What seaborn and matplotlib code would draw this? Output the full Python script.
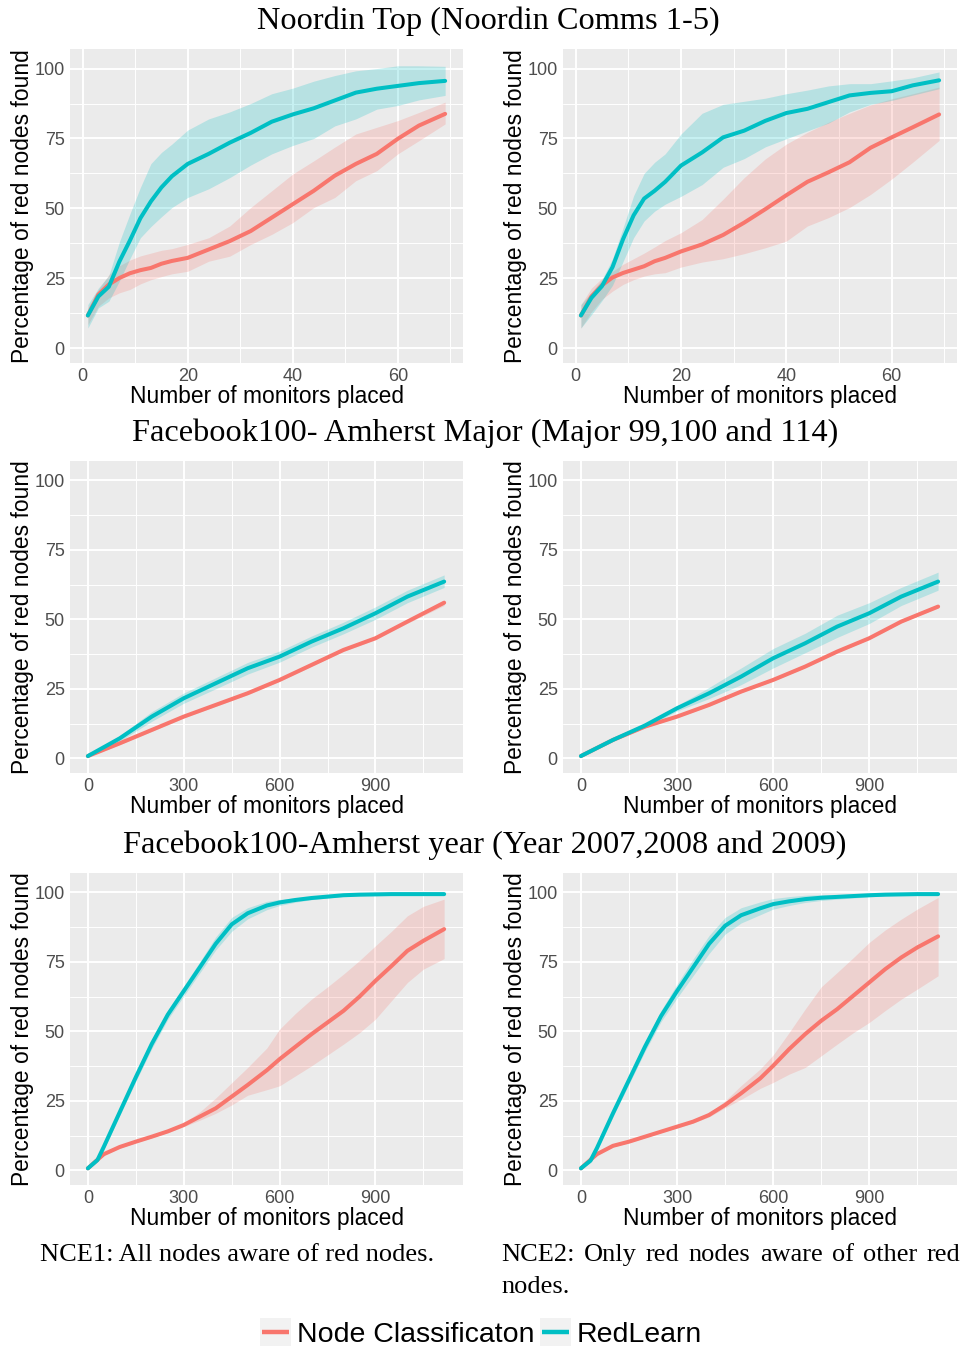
import numpy as np
import pandas as pd
import matplotlib
matplotlib.use("Agg")
import matplotlib.pyplot as plt
import seaborn as sns
from matplotlib.lines import Line2D
from matplotlib.patches import Rectangle
from matplotlib.legend_handler import HandlerBase

# ---- data -------------------------------------------------------------------
noordin_x = [1, 3, 5, 7, 9, 11, 13, 15, 17, 20, 24, 28, 32, 36, 40, 44, 48, 52, 56, 60, 64, 69]

nt1_nc = [11.7, 19.2, 22.8, 25.1, 26.8, 27.9, 28.7, 30.2, 31.2, 32.3, 35.3, 38.3, 41.9, 46.7, 51.5, 56.3, 61.7, 65.9, 69.5, 74.9, 79.6, 83.8]
nt1_nc_hi = [14.4, 21, 26.3, 29.5, 31.5, 33, 34, 35, 35.6, 37.1, 39.5, 43.7, 50.3, 56.3, 62.3, 67, 71.9, 76.6, 79, 81.4, 84.3, 88]
nt1_nc_lo = [8.4, 15, 18, 19.8, 21, 23, 24.5, 25.6, 26.6, 27.5, 31.1, 32.9, 37.1, 40.7, 44.9, 50.3, 53.9, 59.9, 63.5, 69.5, 74.2, 80.2]
nt1_rl = [11.7, 18.5, 22, 31, 38.5, 46.5, 52.5, 57.5, 61.5, 65.9, 69.5, 73.5, 77, 81, 83.6, 85.8, 88.6, 91.4, 92.8, 93.8, 94.8, 95.6]
nt1_rl_hi = [15.6, 21.5, 26, 38, 48, 57.5, 66, 70, 73, 78, 82, 84.5, 87.5, 91, 93, 95.5, 97.5, 99.2, 100, 101, 101, 100.8]
nt1_rl_lo = [7.2, 14.4, 16.8, 24, 32, 39.5, 43.5, 47, 50.3, 53.9, 57, 61, 65.5, 69.5, 72.5, 75, 79.5, 82, 85.5, 86.8, 88.8, 90.4]

nt2_nc = [11.7, 18.5, 22.5, 25.3, 26.9, 28.1, 29.3, 31.1, 32.3, 34.6, 37.1, 40.5, 44.9, 49.7, 54.7, 59.5, 62.9, 66.5, 71.7, 75.4, 79, 83.6]
nt2_nc_hi = [15.6, 21.5, 25, 27.5, 30, 32, 34, 36.2, 38.5, 41.3, 46, 53.3, 61, 67.7, 73, 77.2, 80.8, 84, 87, 89.2, 91, 93.4]
nt2_nc_lo = [7.2, 13, 17.5, 20.4, 22.8, 24.5, 25.8, 26.6, 27, 29, 30.8, 32, 33.8, 35.9, 38.3, 43.7, 46.7, 50.3, 55, 60.5, 66.5, 74.3]
nt2_rl = [11.7, 18, 22.2, 29, 39, 47.5, 53.5, 56.3, 59.5, 65.3, 70, 75.4, 77.8, 81.3, 84.1, 85.6, 88, 90.4, 91.3, 91.9, 94, 95.8]
nt2_rl_hi = [15.6, 20, 24.5, 32, 43, 54.5, 62.5, 66.5, 69.5, 76.6, 84, 87.2, 88.3, 89.4, 91, 92.3, 93.8, 94.6, 94.6, 95.6, 96.7, 98.8]
nt2_rl_lo = [7.2, 12, 17, 22.5, 31, 39.5, 45.5, 49, 51.5, 54.3, 58.5, 64.7, 67.8, 72, 74.9, 77.7, 80.5, 84.5, 87.2, 88.6, 90.5, 92.8]

major_x = [0, 100, 200, 300, 400, 500, 600, 700, 800, 900, 1000, 1115]

mj1_nc = [0.8, 5.4, 10.2, 15, 19.2, 23.4, 28.2, 33.6, 39, 43.2, 49.2, 56]
mj1_nc_hi = [1.1, 5.9, 10.7, 15.5, 19.7, 23.9, 28.7, 34.1, 39.5, 43.7, 49.8, 57]
mj1_nc_lo = [0.5, 4.9, 9.7, 14.5, 18.7, 22.9, 27.7, 33.1, 38.5, 42.7, 48.6, 55]
mj1_rl = [0.8, 7.2, 15, 21.6, 27, 32.4, 36.6, 42, 46.8, 52.2, 58.2, 63.6]
mj1_rl_hi = [1, 8.2, 16.8, 23.5, 29, 34.5, 38.6, 44, 49, 54.5, 60.5, 66]
mj1_rl_lo = [0.5, 6.2, 13.3, 19.8, 25, 30.3, 34.6, 40, 44.8, 50, 56, 61.5]

mj2_nc = [0.8, 6.6, 11.4, 15, 19.2, 24, 28.2, 33, 38.4, 43.2, 49.2, 54.6]
mj2_nc_hi = [1.1, 7, 11.8, 15.4, 19.6, 24.4, 28.6, 33.4, 38.8, 43.6, 49.6, 55.1]
mj2_nc_lo = [0.5, 6.2, 11, 14.6, 18.8, 23.6, 27.8, 32.6, 38, 42.8, 48.8, 54.1]
mj2_rl = [0.8, 6.6, 11.8, 18, 23.4, 29.4, 36, 41.4, 47.4, 52.2, 58.2, 63.6]
mj2_rl_hi = [1, 7, 12.5, 19, 25.5, 32.5, 39.5, 45, 51.5, 56, 61.5, 67]
mj2_rl_lo = [0.6, 6.2, 11, 17, 21.5, 26.5, 32.5, 38, 43.5, 48.5, 55, 60.5]

year_x = [0, 30, 50, 100, 150, 200, 250, 300, 350, 400, 450, 500, 560, 600, 650, 700, 750, 800, 850, 900, 950, 1000, 1050, 1115]

yr1_nc = [0.7, 3.8, 5.8, 8.4, 10.3, 12.1, 14, 16.3, 19.3, 22.3, 26.5, 30.7, 36, 40, 44.5, 49, 53.2, 57.4, 62.5, 68.2, 73.5, 79, 82.6, 86.8]
yr1_nc_hi = [1, 4.2, 6.2, 8.8, 10.7, 12.5, 14.5, 17, 21, 26, 31.5, 37, 44, 50.8, 56.5, 61.6, 66, 70.6, 75.5, 80.8, 86, 91.6, 95, 97.6]
yr1_nc_lo = [0.4, 3.4, 5.4, 8, 9.9, 11.7, 13.5, 15.7, 18, 20.5, 23.5, 27, 29, 30.4, 34, 37.6, 41.5, 45.4, 49.5, 54.4, 61, 67.6, 72.4, 76.2]
yr1_rl = [0.7, 3.7, 8.5, 21, 33.5, 45.5, 56, 64.5, 73, 81.5, 88.5, 92.5, 95.3, 96.4, 97.3, 98, 98.5, 99, 99.2, 99.3, 99.4, 99.4, 99.4, 99.4]
yr1_rl_hi = [1.1, 4.4, 9.5, 22.2, 35, 47.2, 57.7, 66.3, 75, 84, 91, 94.5, 96.8, 97.5, 98.1, 98.6, 98.9, 99.3, 99.5, 99.6, 99.7, 99.7, 99.7, 99.7]
yr1_rl_lo = [0.3, 3, 7.5, 19.8, 32, 43.8, 54.3, 62.7, 71, 79.3, 86, 90.5, 93.8, 95.3, 96.5, 97.4, 98, 98.6, 98.9, 99, 99.1, 99.1, 99.1, 99.1]

yr2_nc = [0.7, 3.8, 5.8, 8.8, 10.3, 12.1, 13.9, 15.7, 17.5, 19.9, 23.5, 27.7, 33.1, 37.6, 43.6, 49, 53.8, 58, 62.8, 67.6, 72.4, 76.6, 80.2, 84.2]
yr2_nc_hi = [1, 4.2, 6.2, 9.2, 10.7, 12.5, 14.3, 16.2, 18, 20.6, 25, 30.5, 36.5, 41.5, 49.6, 58, 66, 71.2, 76.5, 82, 86.5, 90.4, 94, 98.2]
yr2_nc_lo = [0.4, 3.4, 5.4, 8.4, 9.9, 11.7, 13.5, 15.2, 17, 19.2, 22.5, 25.5, 29.5, 31.6, 34.6, 37, 41.2, 45.4, 49.5, 53.2, 57.5, 61.6, 65.2, 70]
yr2_rl = [0.7, 3.5, 8, 20.5, 32.5, 44.5, 55.5, 64.5, 73, 81.5, 88, 91.8, 94.3, 95.8, 96.8, 97.6, 98.1, 98.4, 98.7, 99, 99.2, 99.3, 99.4, 99.4]
yr2_rl_hi = [1.1, 4.2, 9, 21.7, 34, 46.2, 57.5, 67, 76, 84.5, 91, 94.5, 96.6, 97.8, 98.5, 99, 99.2, 99.3, 99.4, 99.5, 99.6, 99.6, 99.7, 99.7]
yr2_rl_lo = [0.3, 2.8, 7, 19.3, 31, 42.8, 53.5, 62, 70, 78, 85, 89, 92, 94, 95.3, 96.4, 97.1, 97.6, 98, 98.4, 98.8, 99, 99.1, 99.1]

methods = ["Node Classificaton", "RedLearn"]
colors = {"Node Classificaton": "#F8766D", "RedLearn": "#00BFC4"}

section_titles = ["Noordin Top (Noordin Comms 1-5)",
                  "Facebook100- Amherst Major (Major 99,100 and 114)",
                  "Facebook100-Amherst year (Year 2007,2008 and 2009)"]
caption1 = "NCE1: All nodes aware of red nodes."
caption2_line1 = "NCE2:  Only red nodes aware of other red"
caption2_line2 = "nodes."

# ---- style ------------------------------------------------------------------
sns.set_theme(style="darkgrid", rc={"axes.facecolor": "#EBEBEB", "grid.color": "white",
                                    "text.color": "black"})
plt.rcParams["font.family"] = ["Liberation Sans", "DejaVu Sans"]

W, H = 967, 1349
fig = plt.figure(figsize=(W / 100, H / 100), dpi=100)
fig.patch.set_facecolor("white")


def px_axes(x0, y0, x1, y1):
    return fig.add_axes([x0 / W, 1 - y1 / H, (x1 - x0) / W, (y1 - y0) / H])


def draw_panel(ax, x, nc, nc_lo, nc_hi, rl, rl_lo, rl_hi, xmajor, xminor, xlim):
    df = pd.DataFrame({
        "monitors": list(x) * 2,
        "pct": list(nc) + list(rl),
        "method": [methods[0]] * len(x) + [methods[1]] * len(x),
    })
    ax.fill_between(x, nc_lo, nc_hi, color=colors[methods[0]], alpha=0.22, lw=0)
    ax.fill_between(x, rl_lo, rl_hi, color=colors[methods[1]], alpha=0.22, lw=0)
    sns.lineplot(data=df, x="monitors", y="pct", hue="method", palette=colors,
                 lw=2.9, legend=False, ax=ax, estimator=None, sort=False)
    ax.set_xlim(*xlim)
    ax.set_ylim(-5.3, 107)
    ax.set_xticks(xmajor)
    ax.set_xticks(xminor, minor=True)
    ax.set_yticks([0, 25, 50, 75, 100])
    ax.set_yticks([12.5, 37.5, 62.5, 87.5], minor=True)
    ax.grid(which="major", color="white", lw=1.4)
    ax.grid(which="minor", color="white", lw=0.7)
    ax.set_axisbelow(True)
    for s in ax.spines.values():
        s.set_visible(False)
    ax.tick_params(which="major", length=3, width=0.8, color="#333333",
                   labelsize=13, labelcolor="#4D4D4D", pad=0.8)
    ax.tick_params(which="minor", length=0)
    ax.set_xlabel("Number of monitors placed", fontsize=16.4, color="black", labelpad=-0.5)
    ax.set_ylabel("Percentage of red nodes found", fontsize=16.4, color="black", labelpad=0.2)


cols = [(70, 463), (563, 957)]
rows = [(49, 363), (461, 773), (873, 1185)]

panels = [
    (noordin_x, nt1_nc, nt1_nc_lo, nt1_nc_hi, nt1_rl, nt1_rl_lo, nt1_rl_hi),
    (noordin_x, nt2_nc, nt2_nc_lo, nt2_nc_hi, nt2_rl, nt2_rl_lo, nt2_rl_hi),
    (major_x, mj1_nc, mj1_nc_lo, mj1_nc_hi, mj1_rl, mj1_rl_lo, mj1_rl_hi),
    (major_x, mj2_nc, mj2_nc_lo, mj2_nc_hi, mj2_rl, mj2_rl_lo, mj2_rl_hi),
    (year_x, yr1_nc, yr1_nc_lo, yr1_nc_hi, yr1_rl, yr1_rl_lo, yr1_rl_hi),
    (year_x, yr2_nc, yr2_nc_lo, yr2_nc_hi, yr2_rl, yr2_rl_lo, yr2_rl_hi),
]

for i, p in enumerate(panels):
    r, c = divmod(i, 2)
    ax = px_axes(cols[c][0], rows[r][0], cols[c][1], rows[r][1])
    if r == 0:
        draw_panel(ax, *p, [0, 20, 40, 60], [10, 30, 50, 70], (-2.4, 72.4))
    else:
        draw_panel(ax, *p, [0, 300, 600, 900], [150, 450, 750, 1050], (-56, 1174))

# section titles
for t, (xc, yc) in zip(section_titles, [(488, 21), (485, 433), (485, 845)]):
    fig.text(xc / W, 1 - yc / H, t, ha="center", va="center", color="black",
             family="Liberation Serif", fontsize=23.3)

# captions
fig.text(40 / W, 1 - 1255 / H, caption1, ha="left", va="center", color="black",
         family="Liberation Serif", fontsize=19)
renderer = fig.canvas.get_renderer()
words = caption2_line1.split()
wtexts = [fig.text(0, 1 - 1255 / H, w, ha="left", va="center", color="black",
                   family="Liberation Serif", fontsize=19) for w in words]
widths = [t.get_window_extent(renderer).width for t in wtexts]
gap = (960 - 501 - sum(widths)) / (len(words) - 1)
xpos = 501
for t, w in zip(wtexts, widths):
    t.set_x(xpos / W)
    xpos += w + gap
fig.text(501 / W, 1 - 1287 / H, caption2_line2, ha="left", va="center", color="black",
         family="Liberation Serif", fontsize=19)


# legend with grey key boxes
class KeyHandler(HandlerBase):
    def create_artists(self, legend, orig_handle, xdescent, ydescent, width,
                       height, fontsize, trans):
        bg = Rectangle((-xdescent, -ydescent), width, height, facecolor="#F2F2F2",
                       edgecolor="none", transform=trans)
        y = -ydescent + height / 2
        ln = Line2D([-xdescent + 0.08 * width, -xdescent + 0.92 * width], [y, y],
                    color=orig_handle.get_color(), lw=orig_handle.get_linewidth(),
                    solid_capstyle="butt", transform=trans)
        return [bg, ln]


handles = [Line2D([], [], color=colors[m], lw=3.2, label=m) for m in methods]
fig.legend(handles=handles, loc="center", bbox_to_anchor=(481 / W, 1 - 1333 / H),
           ncol=2, frameon=False, fontsize=20.5, handlelength=1.1, handleheight=1.1,
           handletextpad=0.2, columnspacing=0.2, borderpad=0, borderaxespad=0,
           labelcolor="black", handler_map={Line2D: KeyHandler()})

fig.savefig("out.png", dpi=100, facecolor="white")
